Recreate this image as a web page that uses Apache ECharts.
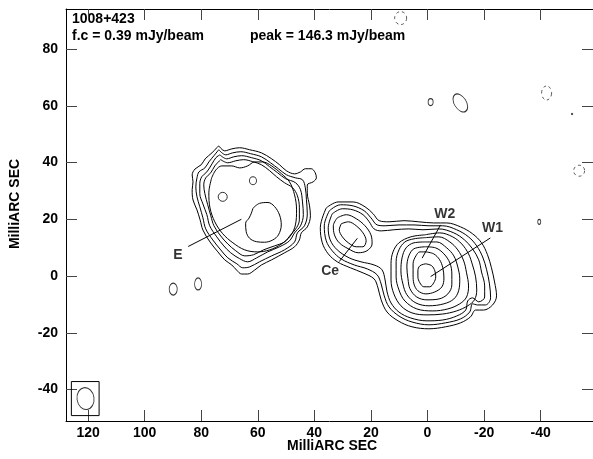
<!DOCTYPE html>
<html>
<head>
<meta charset="utf-8">
<script src="https://cdn.jsdelivr.net/npm/echarts@6/dist/echarts.min.js"></script>
<style>
  html, body { margin: 0; padding: 0; background: #fff; }
  #chart { width: 593px; height: 459px; }
</style>
</head>
<body>
<div id="chart"></div>
<script>
// 1008+423 VLBI map: offsets in milliarcseconds (RA increases to the left)
const xRange = [-58.5, 127.8];
const yRange = [-51.1, 94.1];
const xTicks = [120, 100, 80, 60, 40, 20, 0, -20, -40];
const yTicks = [-40, -20, 0, 20, 40, 60, 80];

// Eastern lobe (E): contour levels 1..6
const eLevel1 = [[73.8,45.9],[71.7,44.1],[69.2,44.8],[66.4,45.2],[62.9,44.5],[58.7,43.4],[55.1,41.3],[52.3,39.2],[49.9,37.1],[47.0,36.0],[44.9,36.7],[43.2,37.8],[41.1,37.8],[39.7,36.4],[39.3,34.6],[40.4,33.2],[42.5,32.1],[42.5,29.3],[41.7,24.7],[41.4,21.2],[42.5,17.3],[44.6,15.2],[45.3,12.7],[47.0,10.3],[50.5,8.2],[55.1,5.7],[58.7,3.9],[61.1,2.1],[63.6,0.7],[65.7,0.7],[67.5,2.1],[69.2,3.9],[71.7,5.7],[74.1,8.5],[76.9,12.0],[79.4,16.2],[80.4,19.8],[81.5,23.3],[82.9,26.8],[83.2,30.4],[82.9,33.2],[83.2,35.6],[82.2,37.7],[80.0,39.2],[78.6,41.3],[76.2,43.4],[74.5,45.2]];
const eLevel2 = [[73.8,44.5],[71.3,42.7],[68.9,43.4],[66.0,43.8],[62.5,43.1],[58.7,42.0],[55.5,39.9],[52.7,37.8],[49.9,35.7],[46.7,34.6],[44.2,33.9],[43.2,31.1],[42.8,26.85],[42.5,21.9],[43.5,17.7],[46.0,15.2],[47.0,12.0],[50.6,9.2],[55.1,7.1],[59.4,5.0],[62.9,3.2],[65.3,2.9],[67.4,4.3],[70.6,6.4],[73.1,9.2],[75.9,12.7],[78.4,16.6],[79.4,20.5],[80.5,24.4],[81.5,27.9],[81.9,31.4],[81.5,34.6],[80.8,36.7],[78.7,38.1],[77.3,40.2],[75.5,42.4]];
const eLevel3 = [[73.4,42.7],[71.0,41.3],[68.5,42.0],[65.7,42.4],[62.2,41.7],[58.7,40.6],[55.8,38.5],[53.0,36.4],[50.2,34.3],[46.7,32.9],[44.9,30.4],[44.2,26.1],[43.9,21.6],[44.9,17.7],[47.0,15.2],[48.8,12.4],[52.3,10.3],[56.5,8.5],[60.4,6.4],[63.6,5.0],[66.4,6.1],[69.6,8.2],[72.0,10.6],[74.5,13.8],[77.0,17.7],[78.0,21.6],[79.4,25.4],[80.5,29.0],[80.5,32.5],[79.8,35.0],[78.0,36.7],[76.2,39.5],[74.8,41.7]];
const eLevel4 = [[73.1,41.0],[70.6,39.9],[67.8,40.6],[65.0,41.0],[61.8,40.3],[58.7,39.2],[55.8,37.1],[53.4,35.0],[50.6,32.9],[47.7,31.1],[46.0,28.3],[45.3,24.0],[45.3,19.8],[46.3,17.0],[48.4,14.5],[50.6,12.0],[54.1,10.6],[58.0,9.2],[61.5,7.5],[64.6,7.1],[67.8,8.9],[70.6,11.3],[73.1,14.1],[75.5,17.7],[76.6,21.2],[77.7,25.1],[78.7,29.0],[79.1,32.1],[78.4,34.6],[76.6,36.4],[75.2,38.8]];
const eLevel5 = [[76.3,34.6],[74.8,37.4],[72.7,38.8],[69.2,38.8],[66.4,38.1],[63.6,38.8],[61.1,40.2],[58.3,40.2],[55.1,38.8],[51.6,36.0],[48.8,33.2],[47.0,28.6],[46.3,23.3],[46.7,18.0],[48.5,14.1],[51.6,11.3],[55.8,9.2],[60.1,8.5],[64.6,9.2],[68.8,11.7],[72.4,14.9],[75.2,19.1],[76.9,24.0],[77.3,29.3]];
const eLevel6 = [[61.7,23.9],[59.4,25.6],[56.4,25.9],[54.1,24.5],[52.3,21.5],[51.7,18.0],[52.7,14.5],[54.7,12.7],[57.6,11.9],[60.5,12.1],[62.9,13.3],[64.1,15.6],[64.3,18.6],[63.1,20.4],[62.3,22.1]];

// Core-jet (Ce, W2, W1): levels 1..3 enclose both, higher levels split
const wLevel1 = [[35.8,24.0],[31.6,26.1],[26.3,26.1],[22.1,24.4],[19.2,21.9],[17.1,19.5],[13.6,19.1],[8.3,19.5],[3.1,19.1],[-2.2,18.7],[-6.8,18.7],[-11.7,17.3],[-15.9,14.9],[-19.1,11.7],[-21.2,7.5],[-22.6,2.9],[-23.7,-2.1],[-24.4,-7.0],[-23.0,-10.2],[-19.8,-12.0],[-17.0,-12.0],[-15.2,-14.4],[-11.7,-16.5],[-6.4,-17.9],[-0.5,-18.6],[5.5,-17.9],[10.4,-15.8],[14.3,-12.7],[16.4,-8.4],[17.5,-4.2],[18.9,-1.0],[22.8,1.1],[27.3,2.9],[31.9,5.0],[35.1,7.8],[37.2,11.7],[37.9,17.0]];
const wLevel2 = [[34.7,23.0],[30.8,25.1],[26.3,24.7],[22.4,23.0],[20.0,20.5],[17.8,18.0],[15.0,17.7],[10.1,18.0],[4.8,18.0],[-0.5,17.7],[-5.4,17.7],[-10.3,16.3],[-14.5,13.8],[-17.4,10.6],[-19.5,6.7],[-20.9,2.2],[-21.9,-2.8],[-22.3,-7.7],[-20.5,-10.2],[-17.7,-10.2],[-15.9,-9.8],[-14.9,-12.7],[-11.7,-15.1],[-6.4,-16.5],[-0.5,-17.2],[5.5,-16.2],[10.1,-14.1],[13.6,-10.9],[15.3,-7.0],[16.4,-2.8],[17.8,0.4],[21.3,2.5],[25.9,3.9],[30.5,6.0],[33.7,8.9],[35.8,12.4],[36.5,17.7]];
const wLevel3 = [[33.7,21.9],[30.1,23.7],[26.3,23.3],[22.8,21.6],[20.6,19.1],[18.9,16.6],[16.4,15.9],[11.9,16.3],[6.6,16.6],[1.6,16.3],[-4.0,16.6],[-9.3,15.2],[-13.1,12.7],[-15.9,9.6],[-18.1,5.7],[-19.1,1.4],[-20.2,-3.5],[-20.2,-7.4],[-18.1,-9.1],[-15.9,-7.7],[-14.2,-8.8],[-13.5,-12.0],[-10.3,-14.1],[-5.4,-15.5],[0.2,-15.8],[5.9,-14.8],[10.1,-12.7],[12.9,-9.5],[14.3,-5.6],[15.0,-1.4],[16.1,2.2],[18.9,3.9],[23.5,5.0],[27.7,6.4],[31.9,9.2],[34.4,12.7],[35.1,17.0]];
const ceLevel4 = [[31.9,20.5],[28.7,21.6],[25.2,20.2],[22.1,17.7],[20.0,14.5],[19.6,11.3],[21.4,8.9],[24.5,8.2],[28.0,9.6],[31.2,11.7],[32.9,14.5],[33.3,17.7]];
const ceLevel5 = [[30.5,18.4],[28.0,19.1],[25.2,17.7],[22.8,15.2],[21.7,12.4],[22.8,10.3],[25.2,10.3],[28.0,11.7],[30.1,13.8],[31.2,16.3]];
const wLevel4 = [[0.9,14.5],[-4.3,15.2],[-8.9,13.8],[-12.1,11.3],[-14.5,7.8],[-15.9,3.9],[-17.0,-0.3],[-17.4,-4.9],[-16.6,-8.4],[-14.2,-10.5],[-10.3,-12.3],[-5.4,-13.4],[0.2,-13.7],[5.5,-13.0],[9.4,-10.5],[11.9,-6.3],[12.9,-1.4],[12.9,4.3],[12.2,8.5],[10.1,11.7],[5.9,13.8]];
const wLevel5 = [[0.9,13.5],[-4.0,13.8],[-7.9,12.0],[-10.7,9.2],[-12.8,5.3],[-13.8,1.1],[-14.5,-3.5],[-13.8,-7.4],[-11.4,-9.8],[-7.2,-11.6],[-1.9,-12.3],[3.8,-11.6],[8.0,-8.8],[10.1,-4.9],[11.1,-0.3],[11.1,5.0],[10.1,9.2],[8.0,12.0],[4.8,13.1]];
const wLevel6 = [[0.9,12.0],[-3.3,12.0],[-6.8,9.9],[-9.3,7.1],[-10.7,3.2],[-11.4,-1.0],[-11.0,-5.2],[-9.3,-8.1],[-5.8,-9.8],[-0.5,-10.5],[4.1,-9.5],[7.3,-6.6],[8.7,-2.8],[9.4,1.8],[9.0,6.4],[7.6,9.9],[4.8,11.7]];
const wLevel7 = [[0.6,10.3],[-2.9,9.9],[-5.8,7.8],[-7.9,4.6],[-8.6,0.7],[-8.6,-3.1],[-7.2,-6.3],[-4.0,-8.1],[0.2,-8.4],[3.8,-7.4],[6.2,-4.5],[6.9,-1.0],[7.3,3.2],[6.6,7.1],[4.8,9.6]];
const wLevel8 = [[0.6,8.5],[-2.2,7.8],[-4.3,5.7],[-5.4,2.9],[-5.8,-0.7],[-5.1,-3.8],[-2.6,-5.6],[0.6,-6.3],[3.4,-5.2],[4.8,-2.8],[5.1,0.4],[5.1,4.3],[4.1,7.1],[2.7,8.5]];
const wLevel9 = [[0.6,4.3],[-1.5,3.6],[-2.6,1.8],[-2.9,-0.3],[-2.2,-2.4],[-0.8,-3.8],[1.3,-3.8],[2.7,-2.4],[3.4,-0.3],[3.4,1.8],[2.7,3.6]];

// Small isolated islands: [x, y, width px, height px, rotation]
const positiveIslands = [[72.4,27.9,9,9,0],[61.7,33.6,7,8,0],[89.9,-4.6,8,12,0],[81.1,-2.8,7,12,0],[-1.1,61.3,5,7,0],[-11.6,61.0,12,20,32],[-39.5,19.1,3,5,0],[-51.1,57.1,1.5,1.5,0]];
const negativeIslands = [[9.5,90.9,12,13,0],[-42.1,64.5,10,14,0],[-53.6,37.1,11,11,0]];

// Restoring beam and its box
const beam = [[120.9,-43.2,17,22,8]];
const beamBox = [[125.9,-37.2],[116.1,-37.2],[116.1,-49.2],[125.9,-49.2],[125.9,-37.2]];

// Component labels and their leader lines
const componentLabels = [['E',88.2,7.5],['Ce',34.4,1.8],['W2',-6.1,21.9],['W1',-23.0,17.0]];
const leaderLines = [
  [[84.6,10.4],[65.8,20.0]],
  [[31.2,5.1],[24.8,13.3]],
  [[-4.6,18.0],[1.9,6.3]],
  [[-22.2,13.4],[-1.1,-0.2]]
];

const contours = [eLevel1,eLevel2,eLevel3,eLevel4,eLevel5,eLevel6,
  wLevel1,wLevel2,wLevel3,ceLevel4,ceLevel5,wLevel4,wLevel5,wLevel6,wLevel7,wLevel8,wLevel9];

const FONT = 'Liberation Sans, Arial, Helvetica, sans-serif';
const closeLoop = pts => pts.concat([pts[0]]);

const series = [];
contours.forEach(c => {
  series.push({
    type: 'line', data: closeLoop(c), showSymbol: false, smooth: 0.35,
    lineStyle: { color: '#000', width: 1 }, silent: true, z: 3
  });
});
series.push({
  type: 'scatter', silent: true, z: 3,
  data: positiveIslands.map(p => ({ value: [p[0], p[1]], symbolSize: [p[2], p[3]], symbolRotate: p[4] })),
  symbol: 'circle',
  itemStyle: { color: 'rgba(0,0,0,0)', borderColor: '#000', borderWidth: 1 }
});
series.push({
  type: 'scatter', silent: true, z: 3,
  data: negativeIslands.map(p => ({ value: [p[0], p[1]], symbolSize: [p[2], p[3]], symbolRotate: p[4] })),
  symbol: 'circle',
  itemStyle: { color: 'rgba(0,0,0,0)', borderColor: '#000', borderWidth: 0.8, borderType: [3, 3] }
});
series.push({
  type: 'scatter', silent: true, z: 3,
  data: beam.map(p => ({ value: [p[0], p[1]], symbolSize: [p[2], p[3]], symbolRotate: p[4] })),
  symbol: 'circle',
  itemStyle: { color: 'rgba(0,0,0,0)', borderColor: '#000', borderWidth: 1 }
});
series.push({
  type: 'line', data: beamBox, showSymbol: false, silent: true, z: 3,
  lineStyle: { color: '#000', width: 1 }
});
leaderLines.forEach(l => series.push({
  type: 'line', data: l, showSymbol: false, silent: true, z: 3,
  lineStyle: { color: '#000', width: 1 }
}));
series.push({
  type: 'scatter', silent: true, z: 4, symbolSize: 0,
  data: componentLabels.map(d => ({ name: d[0], value: [d[1], d[2]] })),
  label: { show: true, position: 'inside', formatter: '{b}', color: '#000',
           fontFamily: FONT, fontWeight: 'bold', fontSize: 14 }
});

const axisCommon = {
  type: 'value',
  axisLine: { show: true, onZero: false, lineStyle: { color: '#000', width: 1 } },
  splitLine: { show: false },
  axisTick: { show: true, inside: true, length: 11, lineStyle: { color: '#444', width: 1 } }
};

const chart = echarts.init(document.getElementById('chart'), null, { renderer: 'canvas' });
chart.setOption({
  animation: false,
  backgroundColor: '#fff',
  grid: { left: 66, right: -2, top: 9, bottom: 38 },
  xAxis: [
    Object.assign({}, axisCommon, {
      position: 'bottom', min: xRange[0], max: xRange[1], inverse: true,
      axisTick: Object.assign({}, axisCommon.axisTick, { customValues: xTicks }),
      axisLabel: { customValues: xTicks, margin: 5, color: '#000', fontFamily: FONT, fontWeight: 'bold', fontSize: 14 }
    }),
    Object.assign({}, axisCommon, {
      position: 'top', min: xRange[0], max: xRange[1], inverse: true,
      axisTick: Object.assign({}, axisCommon.axisTick, { customValues: xTicks }),
      axisLabel: { show: false }
    })
  ],
  yAxis: [
    Object.assign({}, axisCommon, {
      position: 'left', min: yRange[0], max: yRange[1],
      axisTick: Object.assign({}, axisCommon.axisTick, { customValues: yTicks }),
      axisLabel: { customValues: yTicks, margin: 8, color: '#000', fontFamily: FONT, fontWeight: 'bold', fontSize: 14 }
    }),
    Object.assign({}, axisCommon, {
      position: 'right', min: yRange[0], max: yRange[1],
      axisTick: Object.assign({}, axisCommon.axisTick, { customValues: yTicks }),
      axisLabel: { show: false }
    })
  ],
  graphic: [
    { type: 'text', left: 72, top: 12, style: { text: '1008+423', fontFamily: FONT, fontWeight: 'bold', fontSize: 14, fill: '#000' } },
    { type: 'text', left: 72, top: 29, style: { text: 'f.c = 0.39 mJy/beam', fontFamily: FONT, fontWeight: 'bold', fontSize: 14, fill: '#000' } },
    { type: 'text', left: 250, top: 29, style: { text: 'peak = 146.3 mJy/beam', fontFamily: FONT, fontWeight: 'bold', fontSize: 14, fill: '#000' } },
    { type: 'text', left: 287, top: 439, style: { text: 'MilliARC SEC', fontFamily: FONT, fontWeight: 'bold', fontSize: 14, fill: '#000' } },
    { type: 'text', x: 15, y: 204, rotation: Math.PI / 2,
      style: { text: 'MilliARC SEC', fontFamily: FONT, fontWeight: 'bold', fontSize: 14, fill: '#000', align: 'center', verticalAlign: 'middle' } }
  ],
  series: series
});
</script>
</body>
</html>
